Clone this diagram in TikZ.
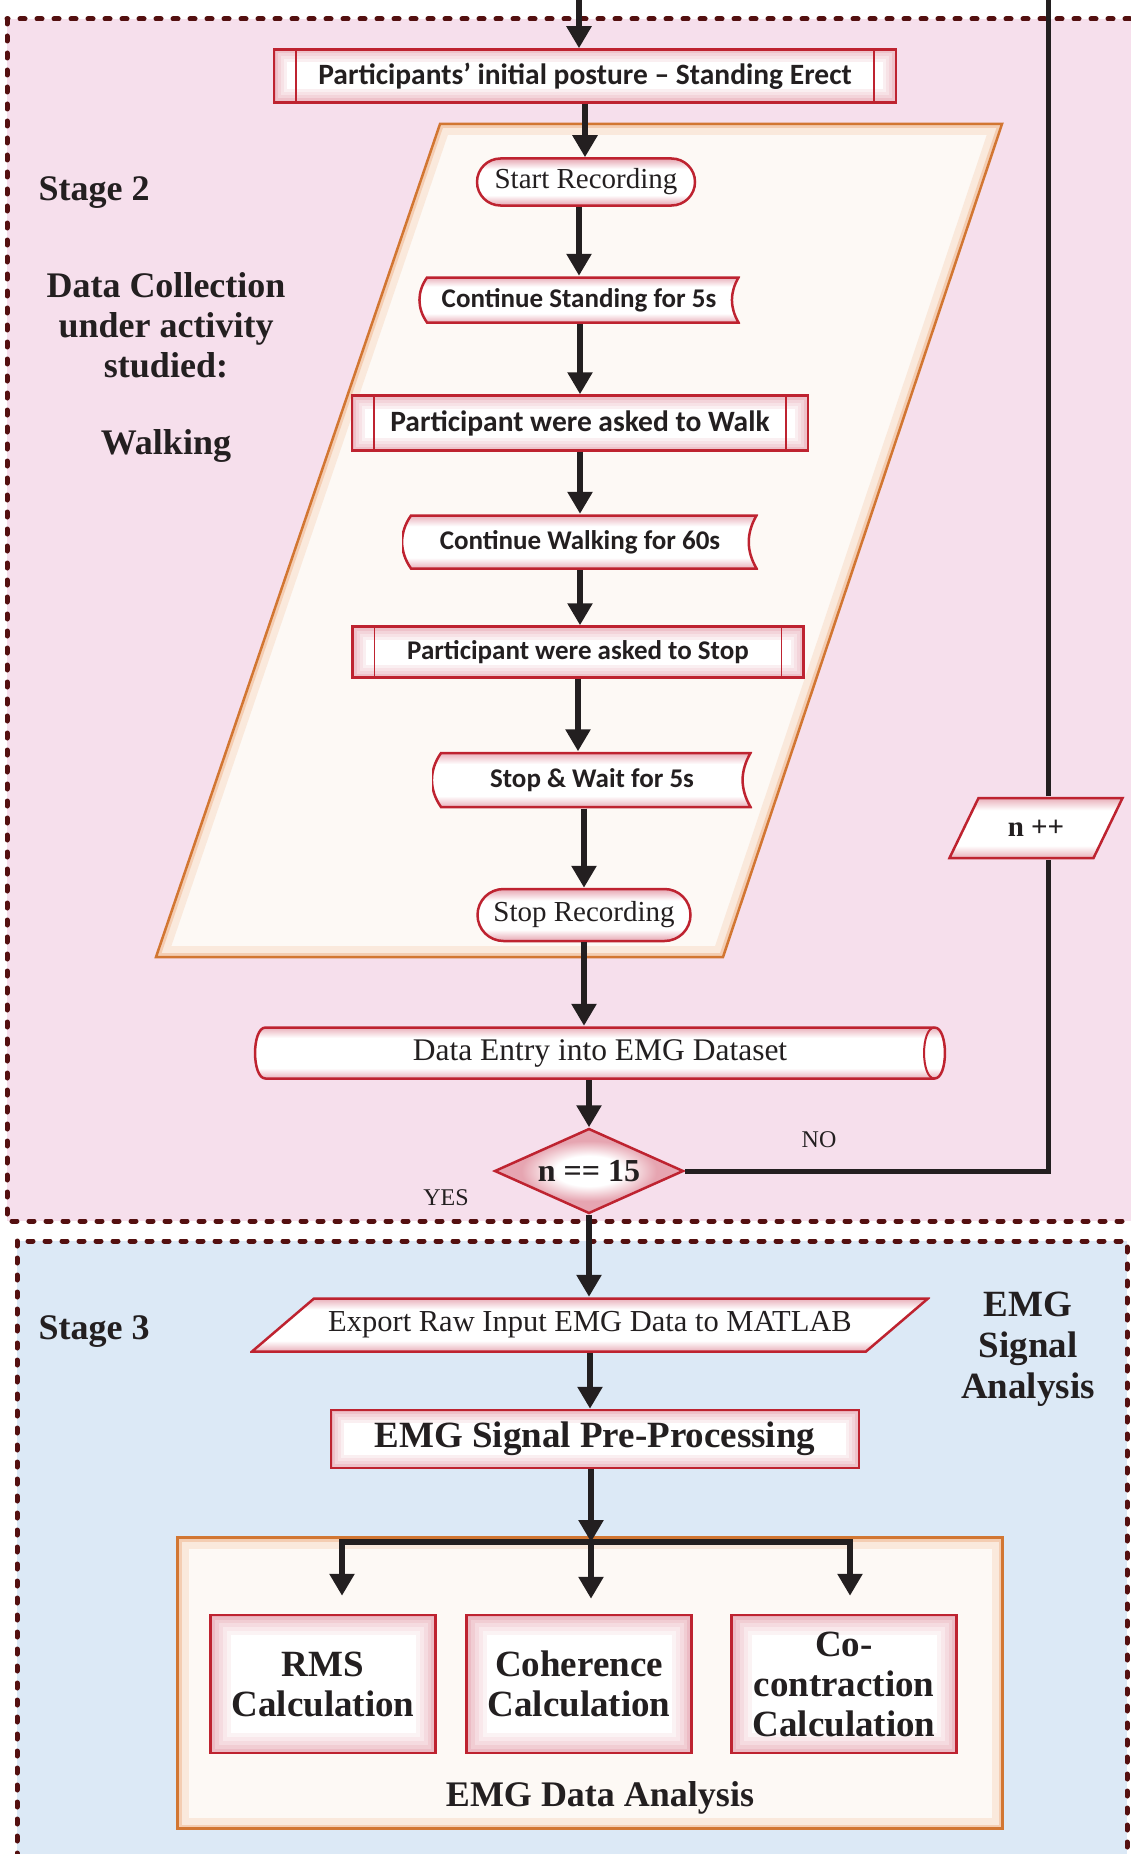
\documentclass[tikz,border=0pt]{standalone}
\usepackage{fontspec}
\setmainfont{Liberation Serif}
\newfontfamily\calibri{Carlito}
\usepackage{xcolor}
\usepackage{tikz}
\usetikzlibrary{shapes.geometric, shapes.misc, arrows.meta, positioning, calc}
\definecolor{stagepink}{RGB}{246, 223, 236}
\definecolor{stageblue}{RGB}{220, 233, 246}
\definecolor{dashred}{RGB}{84, 16, 16}
\definecolor{boxred}{RGB}{190, 35, 48}
\definecolor{glowpink}{RGB}{230, 165, 177}
\definecolor{creamfill}{RGB}{253, 249, 245}
\definecolor{edgeorange}{RGB}{210, 118, 50}
\definecolor{peachglow}{RGB}{244, 205, 178}
\definecolor{inkblack}{RGB}{35, 31, 32}

\pgfdeclareverticalshading{glow}{100bp}{color(0bp)=(glowpink); color(25bp)=(glowpink); color(36bp)=(white); color(64bp)=(white); color(75bp)=(glowpink); color(100bp)=(glowpink)}
\pgfdeclareradialshading{diamondglow}{\pgfpoint{0bp}{0bp}}{color(0bp)=(white); color(9bp)=(white); color(18bp)=(glowpink); color(50bp)=(glowpink)}

\tikzset{
  stagebox/.style={line width=5pt, draw=dashred, dash pattern=on 5pt off 12pt, line cap=round},
  arrowline/.style={line width=6pt, draw=inkblack, -{Triangle[width=24pt, length=22pt]}},
  loopline/.style={line width=5pt, draw=inkblack},
  redbox/.style={draw=boxred, line width=2.5pt, shade, shading=glow, inner sep=0pt},
  % rectangular inner glow, drawn as nested strokes
  glowrect/.style={draw=boxred, line width=2.5pt, fill=white, inner sep=0pt,
    path picture={
      \foreach \w/\c in {#1} {
        \draw[glowpink!\c, line width=\w pt] (path picture bounding box.south west) rectangle (path picture bounding box.north east);
      }
    }},
  glowrect/.default={26/18, 20/32, 14/48, 8/68, 3/90},
  predef/.style={glowrect,
    postaction={path picture={
      \draw[boxred, line width=1.5pt]
        ([xshift=22pt]path picture bounding box.north west) -- ([xshift=22pt]path picture bounding box.south west)
        ([xshift=-22pt]path picture bounding box.north east) -- ([xshift=-22pt]path picture bounding box.south east);
    }}},
  terminal/.style={redbox, rounded rectangle},
  stored/.style={rectangle, inner sep=0pt,
    path picture={
      \shadedraw[shading=glow, draw=boxred, line width=2.5pt]
        ([xshift=9pt, yshift=-1.5pt]path picture bounding box.north west)
        -- ([xshift=-1.5pt, yshift=-1.5pt]path picture bounding box.north east)
        to[bend right=30] ([xshift=-1.5pt, yshift=1.5pt]path picture bounding box.south east)
        -- ([xshift=9pt, yshift=1.5pt]path picture bounding box.south west)
        to[bend left=35] ([xshift=9pt, yshift=-1.5pt]path picture bounding box.north west) -- cycle;
    }},
  drum/.style={rectangle, inner sep=0pt,
    path picture={
      \shadedraw[shading=glow, draw=boxred, line width=2.5pt]
        ([xshift=12pt, yshift=-1.5pt]path picture bounding box.north west)
        -- ([xshift=-12pt, yshift=-1.5pt]path picture bounding box.north east)
        to[out=0, in=0, looseness=0.7] ([xshift=-12pt, yshift=1.5pt]path picture bounding box.south east)
        -- ([xshift=12pt, yshift=1.5pt]path picture bounding box.south west)
        to[out=180, in=180, looseness=0.7] ([xshift=12pt, yshift=-1.5pt]path picture bounding box.north west) -- cycle;
      \draw[boxred, line width=2pt]
        ([xshift=-12pt, yshift=-1.5pt]path picture bounding box.north east)
        to[out=180, in=180, looseness=0.7] ([xshift=-12pt, yshift=1.5pt]path picture bounding box.south east);
    }},
  inout/.style={rectangle, inner sep=0pt,
    path picture={
      \shadedraw[shading=glow, draw=boxred, line width=2.5pt]
        ([xshift=#1, yshift=-1.5pt]path picture bounding box.north west)
        -- ([xshift=-2pt, yshift=-1.5pt]path picture bounding box.north east)
        -- ([xshift=-#1, yshift=1.5pt]path picture bounding box.south east)
        -- ([xshift=2pt, yshift=1.5pt]path picture bounding box.south west) -- cycle;
    }},
  calcbox/.style={glowrect={40/14, 32/26, 24/40, 16/56, 9/74, 3/92}, minimum width=225pt,
    minimum height=138pt, align=center, font=\bfseries\fontsize{37}{40}\selectfont},
  sanstext/.style={font=\calibri\bfseries\fontsize{27}{32}\selectfont},
  sansbig/.style={font=\calibri\bfseries\fontsize{29.5}{34}\selectfont},
  seriftext/.style={font=\fontsize{29}{34}\selectfont},
  sidetext/.style={font=\bfseries\fontsize{36}{40}\selectfont, align=center},
  every node/.style={text=inkblack}
}

\begin{document}
\begin{tikzpicture}[x=1pt, y=-1pt]
\useasboundingbox (0,0) rectangle (1130,1854);
\fill[white] (0,0) rectangle (1130,1854);

% Stage 2 and Stage 3 panels
\draw[stagebox, fill=stagepink] (7,19) rectangle (1160,1221);
\draw[stagebox, fill=stageblue] (17,1241) rectangle (1127,1890);

% frame round the recording steps
\coordinate (fa) at (440,124);
\coordinate (fb) at (1002,124);
\coordinate (fc) at (723,957);
\coordinate (fd) at (156,957);
\begin{scope}
    \clip (fa) -- (fb) -- (fc) -- (fd) -- cycle;
    \fill[creamfill] (fa) -- (fb) -- (fc) -- (fd) -- cycle;
    \draw[peachglow!45, line width=22pt] (fa) -- (fb) -- (fc) -- (fd) -- cycle;
    \draw[peachglow, line width=8pt] (fa) -- (fb) -- (fc) -- (fd) -- cycle;
\end{scope}
\draw[edgeorange, line width=2.5pt] (fa) -- (fb) -- (fc) -- (fd) -- cycle;

% Stage 2 side labels
\node[sidetext, anchor=west] (stagetwo) at (35,193) {Stage 2};
\node[sidetext] (activity) at (166,325) {Data Collection\\under activity\\studied:};
\node[sidetext] (walking) at (166,446) {Walking};

% data collection steps
\node[predef, sansbig, minimum width=622pt, minimum height=53pt] (posture) at (585,76) {Participants’ initial posture – Standing Erect};
\node[terminal, seriftext, minimum width=218pt, minimum height=47pt] (startrec) at (586,182) {Start Recording};
\node[stored, sanstext, minimum width=322pt, minimum height=48pt] (contstand) at (579,300) {Continue Standing for 5s};
\node[predef, sansbig, minimum width=456pt, minimum height=55pt] (askwalk) at (580,423) {Participant were asked to Walk};
\node[stored, sanstext, minimum width=356pt, minimum height=56pt] (contwalk) at (580,542) {Continue Walking for 60s};
\node[predef, sanstext, minimum width=451pt, minimum height=51pt] (askstop) at (578,652) {Participant were asked to Stop};
\node[stored, sanstext, minimum width=320pt, minimum height=57pt] (stopwait) at (592,780) {Stop \& Wait for 5s};
\node[terminal, seriftext, minimum width=213pt, minimum height=52pt] (stoprec) at (584,915) {Stop Recording};
\node[drum, font=\fontsize{31.5}{36}\selectfont, minimum width=693pt, minimum height=54pt] (dataentry) at (600,1053) {Data Entry into EMG Dataset};
\node[diamond, aspect=2.2, draw=boxred, line width=2.5pt, shade, shading=diamondglow, inner sep=0pt,
      minimum width=189pt, minimum height=85pt, font=\bfseries\fontsize{32}{36}\selectfont] (dec) at (589,1171) {n == 15};
\node[font=\fontsize{24}{28}\selectfont] (nolabel) at (819,1140) {NO};
\node[font=\fontsize{24}{28}\selectfont] (yeslabel) at (446,1198) {YES};

% counter loop
\node[inout=31pt, minimum width=177pt, minimum height=63pt, font=\bfseries\fontsize{29}{34}\selectfont] (npp) at (1036,828) {n ++};
\coordinate (entry) at (579,0);
\coordinate (looptop) at (1048,0);
\draw[loopline] (dec.east) -| (npp.south -| looptop);
\draw[loopline] (npp.north -| looptop) -- (looptop);

% Stage 3
\node[sidetext, anchor=west] (stagethree) at (35,1332) {Stage 3};
\node[sidetext, font=\bfseries\fontsize{37}{41}\selectfont] (signal) at (1028,1349) {EMG\\Signal\\Analysis};
\node[inout=64pt, minimum width=680pt, minimum height=56pt, font=\fontsize{30.5}{35}\selectfont] (export) at (590,1325) {Export Raw Input EMG Data to MATLAB};
\node[glowrect, minimum width=528pt, minimum height=58pt,
      font=\bfseries\fontsize{37}{40}\selectfont] (preproc) at (595,1439) {EMG Signal Pre-Processing};

% EMG data analysis block
\node[rectangle, fill=creamfill, draw=edgeorange, line width=2.5pt, minimum width=825pt, minimum height=291pt,
      path picture={
        \draw[peachglow!45, line width=22pt] (path picture bounding box.south west) rectangle (path picture bounding box.north east);
        \draw[peachglow, line width=8pt] (path picture bounding box.south west) rectangle (path picture bounding box.north east);
      }] (dabox) at (590,1683) {};
\node[calcbox] (rms) at (323,1684) {RMS\\Calculation};
\node[calcbox] (coh) at (579,1684) {Coherence\\Calculation};
\node[calcbox] (cocon) at (844,1684) {Co-\\contraction\\Calculation};
\node[font=\bfseries\fontsize{36}{40}\selectfont] (dalabel) at (600,1798) {EMG Data Analysis};
\coordinate (split) at (591,1542);

% arrows
\draw[arrowline] (entry) -- (entry |- posture.north);
\draw[arrowline] (posture.south) -- (posture.south |- startrec.north);
\draw[arrowline] (contstand.north |- startrec.south) -- (contstand.north);
\draw[arrowline] (askwalk.north |- contstand.south) -- (askwalk.north);
\draw[arrowline] (contwalk.north |- askwalk.south) -- (contwalk.north);
\draw[arrowline] (contwalk.south) -- (contwalk.south |- askstop.north);
\draw[arrowline] (askstop.south) -- (askstop.south |- stopwait.north);
\draw[arrowline] (stoprec.north |- stopwait.south) -- (stoprec.north);
\draw[arrowline] (stoprec.south) -- (stoprec.south |- dataentry.north);
\draw[arrowline] (dec.north |- dataentry.south) -- (dec.north);
\draw[arrowline] (dec.south) -- (dec.south |- export.north);
\draw[arrowline] (export.south) -- (export.south |- preproc.north);
\draw[arrowline] (preproc.south -| split) -- (split);
\draw[arrowline, shorten >=18pt] (split) -| ([xshift=19pt]rms.north);
\draw[arrowline, shorten >=15pt] (split) -- (split |- coh.north);
\draw[arrowline, shorten >=18pt] (split) -| ([xshift=6pt]cocon.north);
\end{tikzpicture}
\end{document}
